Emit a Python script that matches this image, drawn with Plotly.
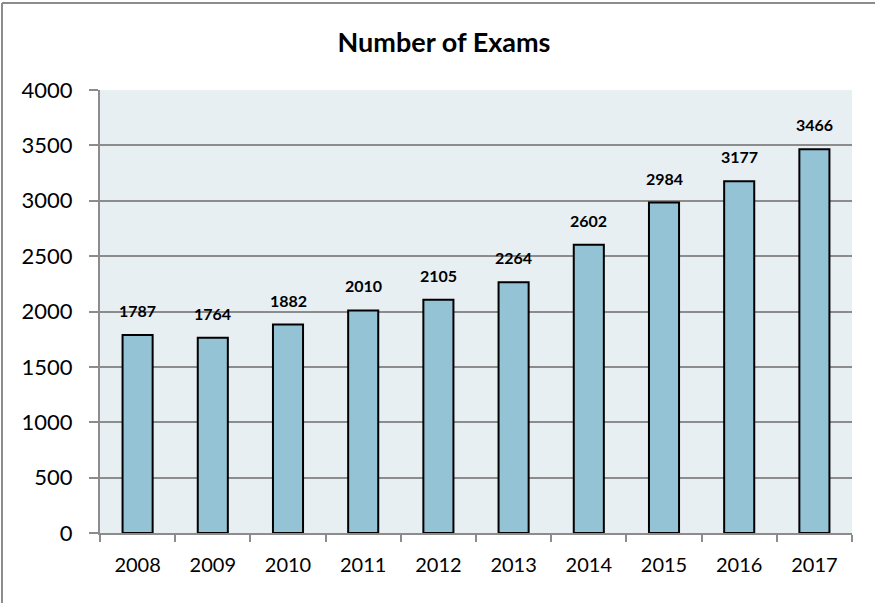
import plotly.graph_objects as go

years = ["2008", "2009", "2010", "2011", "2012", "2013", "2014", "2015", "2016", "2017"]
exams = [1787, 1764, 1882, 2010, 2105, 2264, 2602, 2984, 3177, 3466]

W, H = 875, 603
L, R, T, B = 100, 23, 90, 70
pw, ph = W - L - R, H - T - B
FONT = "Lato, sans-serif"

fig = go.Figure(
    go.Bar(
        x=years,
        y=exams,
        marker=dict(color="#93C3D5", line=dict(color="#000000", width=2)),
        hoverinfo="x+y",
    )
)

# value labels above each bar (x is the category index)
for i, v in enumerate(exams):
    fig.add_annotation(
        x=i, y=v, text=f"<b>{v}</b>", showarrow=False,
        yanchor="bottom", yshift=13,
        font=dict(family=FONT, size=16, color="#000000"),
    )

# chart border: only top and left edges show in the cropped original
bx0, bx1 = (2 - L) / pw, (W + 5 - L) / pw
by0, by1 = -(H + 5 - T - ph) / ph, (T + ph - 3) / ph
fig.add_shape(type="line", xref="paper", yref="paper", x0=bx0, x1=bx1, y0=by1, y1=by1,
              line=dict(color="#8C8C8C", width=2), layer="below")
fig.add_shape(type="line", xref="paper", yref="paper", x0=bx0, x1=bx0, y0=by0, y1=by1,
              line=dict(color="#8C8C8C", width=2), layer="below")

fig.update_layout(
    width=W, height=H,
    margin=dict(l=L, r=R, t=T, b=B, autoexpand=False),
    paper_bgcolor="white",
    plot_bgcolor="#E8EFF3",
    bargap=0.6,
    showlegend=False,
    title=dict(
        text="<b>Number of Exams</b>", x=444 / W, xref="container", xanchor="center",
        y=1 - 43 / H, yanchor="middle",
        font=dict(family=FONT, size=27, color="#000000"),
    ),
    font=dict(family=FONT, size=18, color="#000000"),
)
fig.update_xaxes(
    type="category", automargin=False,
    range=[-0.5, len(years) - 0.5], autorange=False,
    showline=True, linecolor="#8C8C8C", linewidth=2,
    ticks="outside", tickson="boundaries", ticklen=7, tickcolor="#8C8C8C", tickwidth=2,
    showgrid=False,
    tickfont=dict(size=20), tickangle=0,
    ticklabelstandoff=13,
)
fig.update_yaxes(
    range=[0, 4000], dtick=500, automargin=False,
    showline=True, linecolor="#8C8C8C", linewidth=2,
    ticks="outside", ticklen=9, tickcolor="#8C8C8C", tickwidth=2,
    showgrid=True, gridcolor="#8C8C8C", gridwidth=2,
    zeroline=False,
    tickfont=dict(size=22),
    ticklabelstandoff=12,
)

fig.write_html(
    "out.html",
    config={"displayModeBar": False},
    post_script="document.body.style.margin='0';document.body.style.overflow='hidden';",
)
